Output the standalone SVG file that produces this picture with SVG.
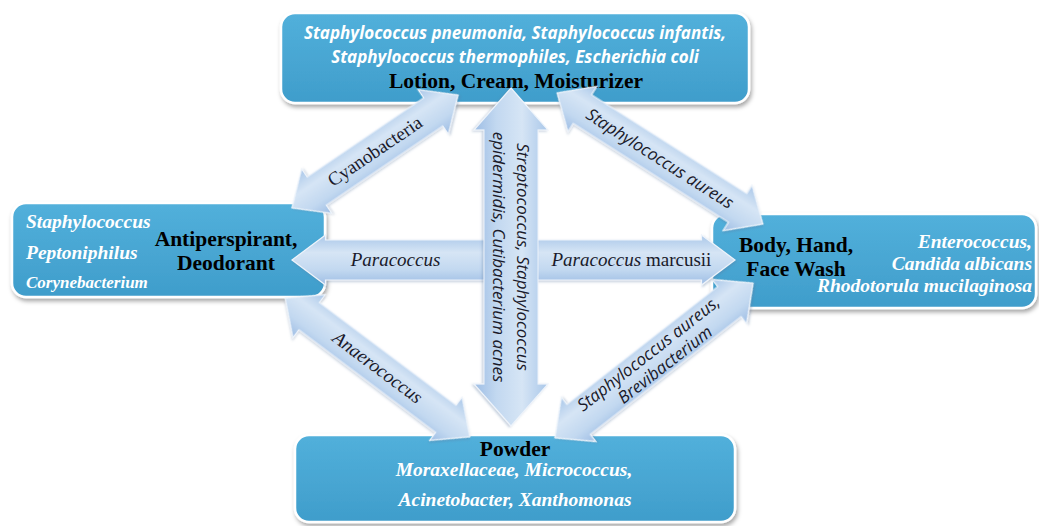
<svg xmlns="http://www.w3.org/2000/svg" width="1039" height="526" viewBox="0 0 1039 526">
<defs>
<linearGradient id="boxg" x1="0" y1="0" x2="0" y2="1">
<stop offset="0" stop-color="#52b0db"/>
<stop offset="1" stop-color="#3f9dcb"/>
</linearGradient>
<linearGradient id="arrg" x1="0" y1="0" x2="0" y2="1">
<stop offset="0" stop-color="#a9c7e9"/>
<stop offset="0.35" stop-color="#d6e5f5"/>
<stop offset="0.7" stop-color="#c2d8f0"/>
<stop offset="1" stop-color="#9dbde4"/>
</linearGradient>
<filter id="sh" x="-10%" y="-10%" width="120%" height="130%">
<feDropShadow dx="1.5" dy="3" stdDeviation="2" flood-color="#000" flood-opacity="0.35"/>
</filter>
<filter id="ash" x="-10%" y="-30%" width="120%" height="160%">
<feDropShadow dx="1" dy="1.5" stdDeviation="1.2" flood-color="#5a7aa0" flood-opacity="0.35"/>
</filter>
<style>
.box{fill:url(#boxg);stroke:#ffffff;stroke-width:2.5;filter:url(#sh)}
.arr{fill:url(#arrg);stroke:#eef4fb;stroke-width:1.2;filter:url(#ash)}
.ttl{font-family:"Liberation Serif",serif;font-weight:bold;font-size:21.5px;fill:#000}
.wsans{font-family:"Open Sans",sans-serif;font-weight:bold;font-style:italic;font-size:17px;fill:#fff}
.wser{font-family:"Liberation Serif",serif;font-weight:bold;font-style:italic;fill:#fff}
.aser{font-family:"Liberation Serif",serif;font-size:19px;fill:#1a1a2a}
.asans{font-family:"Open Sans",sans-serif;font-style:italic;font-size:17px;fill:#1a1a2a}
</style>
</defs>

<g id="node-top">
<rect class="box" x="281" y="13" width="468" height="90" rx="14"/>
<text class="wsans" x="515" y="39" text-anchor="middle">Staphylococcus pneumonia, Staphylococcus infantis,</text>
<text class="wsans" x="515" y="63" text-anchor="middle">Staphylococcus thermophiles, Escherichia coli</text>
<text class="ttl" x="516" y="88" text-anchor="middle">Lotion, Cream, Moisturizer</text>
</g>

<g id="node-left">
<rect class="box" x="12" y="203" width="313" height="94" rx="14"/>
<text class="wser" x="26" y="228" font-size="19.5">Staphylococcus</text>
<text class="wser" x="26" y="259" font-size="19.5">Peptoniphilus</text>
<text class="wser" x="26" y="288" font-size="17">Corynebacterium</text>
<text class="ttl" x="226" y="246" text-anchor="middle">Antiperspirant,</text>
<text class="ttl" x="226" y="270" text-anchor="middle">Deodorant</text>
</g>

<g id="node-right">
<rect class="box" x="712" y="214" width="324" height="94" rx="14"/>
<text class="ttl" x="796" y="252" text-anchor="middle">Body, Hand,</text>
<text class="ttl" x="796" y="276" text-anchor="middle">Face Wash</text>
<text class="wser" x="1032" y="248" font-size="19.5" text-anchor="end">Enterococcus,</text>
<text class="wser" x="1032" y="270" font-size="19.5" text-anchor="end">Candida albicans</text>
<text class="wser" x="1032" y="292" font-size="19.5" text-anchor="end">Rhodotorula mucilaginosa</text>
</g>

<g id="node-bottom">
<rect class="box" x="295" y="435" width="440" height="87" rx="14"/>
<text class="ttl" x="515" y="456" text-anchor="middle">Powder</text>
<text class="wser" x="514" y="476" font-size="19.5" text-anchor="middle">Moraxellaceae, Micrococcus,</text>
<text class="wser" x="515" y="506" font-size="19.5" text-anchor="middle">Acinetobacter, Xanthomonas</text>
</g>

<g id="connectors">
<!-- Cyanobacteria: top <-> left -->
<g transform="translate(375,151.5) rotate(-34.2)">
<path class="arr" d="M-100.4,0 L-70.4,-27 L-70.4,-17 L70.4,-17 L70.4,-27 L100.4,0 L70.4,27 L70.4,17 L-70.4,17 L-70.4,27 Z"/>
<text class="aser" x="0" y="6" text-anchor="middle">Cyanobacteria</text>
</g>
<!-- Staphylococcus aureus: top <-> right -->
<g transform="translate(660,158.5) rotate(32.5)">
<path class="arr" d="M-122,0 L-92,-27 L-92,-17 L92,-17 L92,-27 L122,0 L92,27 L92,17 L-92,17 L-92,27 Z"/>
<text class="asans" x="0" y="6" text-anchor="middle">Staphylococcus aureus</text>
</g>
<!-- Anaerococcus: left <-> bottom -->
<g transform="translate(377.5,367.5) rotate(36.9)">
<path class="arr" d="M-115.5,0 L-85.5,-27 L-85.5,-17 L85.5,-17 L85.5,-27 L115.5,0 L85.5,27 L85.5,17 L-85.5,17 L-85.5,27 Z"/>
<text class="aser" x="0" y="6" font-style="italic" font-size="18.5" text-anchor="middle">Anaerococcus</text>
</g>
<!-- Staphylococcus aureus, Brevibacterium: right <-> bottom -->
<g transform="translate(654,360.5) rotate(-38)">
<path class="arr" d="M-125.7,0 L-95.7,-28 L-95.7,-19 L95.7,-19 L95.7,-28 L125.7,0 L95.7,28 L95.7,19 L-95.7,19 L-95.7,28 Z"/>
<text class="asans" x="0" y="-3" text-anchor="middle">Staphylococcus aureus,</text>
<text class="asans" x="6" y="16" text-anchor="middle">Brevibacterium</text>
</g>
<!-- Paracoccus: horizontal left <-> right -->
<g transform="translate(513.5,260)">
<path class="arr" d="M-221.5,0 L-188,-25 L-188,-20 L188,-20 L188,-25 L221.5,0 L188,25 L188,20 L-188,20 L-188,25 Z"/>
<text class="aser" x="-118" y="6" font-style="italic" text-anchor="middle">Paracoccus</text>
<text class="aser" x="38"  y="6"><tspan font-style="italic">Paracoccus</tspan> marcusii</text>
</g>
<!-- Vertical: top <-> bottom -->
<g transform="translate(511,257) rotate(90)">
<path class="arr" d="M-169,0 L-127,-37 L-127,-27 L127,-27 L127,-37 L169,0 L127,37 L127,27 L-127,27 L-127,37 Z"/>
<text class="asans" x="0" y="-6" text-anchor="middle">Streptococcus, Staphylococcus</text>
<text class="asans" x="0" y="18" text-anchor="middle">epidermidis, Cutibacterium acnes</text>
</g>
</g>
</svg>
